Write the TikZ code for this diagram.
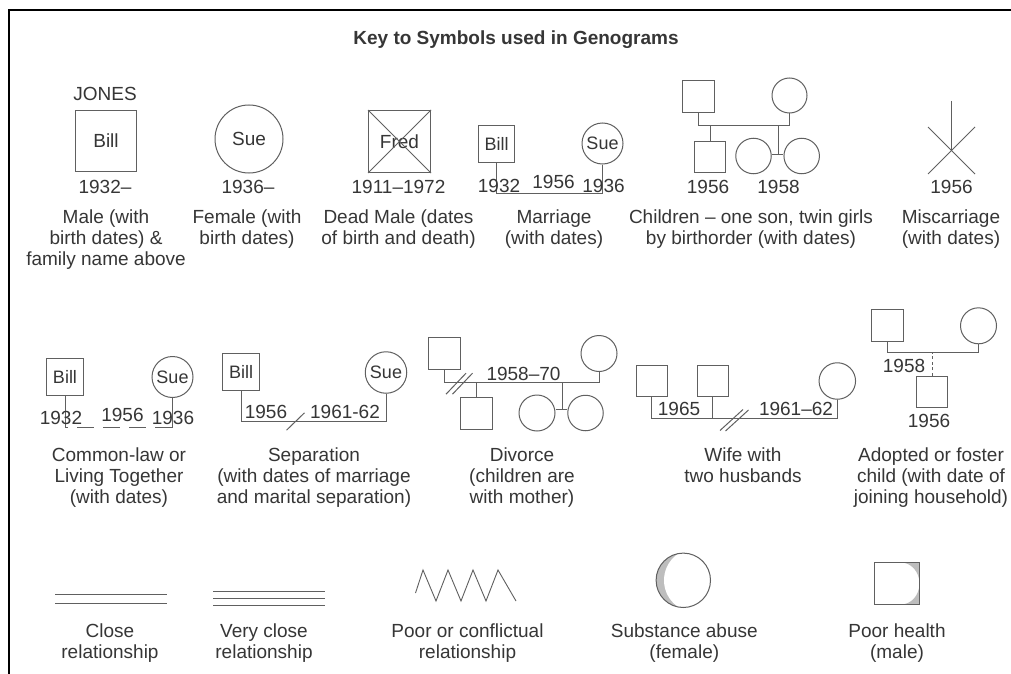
\documentclass[tikz,border=0pt]{standalone}
\usepackage{fontspec}
\setmainfont{Liberation Sans}
\usetikzlibrary{calc}
\definecolor{lc}{HTML}{606060}
\definecolor{tc}{HTML}{363636}
\definecolor{sh}{HTML}{BDBDBD}
\newcommand\fsA{\fontsize{19}{21}\selectfont}
\newcommand\fsB{\fontsize{18}{20}\selectfont}
\newcommand\gcap[1]{\begin{tabular}[t]{@{}c@{}}#1\end{tabular}}
\tikzset{
  sq/.style={rectangle, draw=lc, line width=1pt, inner sep=0pt, text=tc, font=\fsA},
  circ/.style={circle, draw=lc, line width=1pt, inner sep=0pt, text=tc, font=\fsA},
  lbl/.style={inner sep=0pt, text=tc, font=\fsA, anchor=base},
  ttl/.style={inner sep=0pt, text=tc, font=\fsA\bfseries, anchor=base},
  ln/.style={draw=lc, line width=1pt},
  thin/.style={draw=lc, line width=0.9pt},
}
\begin{document}
\begin{tikzpicture}[x=1pt,y=-1pt]
\useasboundingbox (0,0) rectangle (1011,674);
\fill[white] (0,0) rectangle (1011,674);
\draw[line width=2.5pt, black] (9,674) -- (9,10) -- (1011,10);

\node[ttl] (title) at (516,45) {Key to Symbols used in Genograms};

% Male
\node[lbl] (jones) at (105,101) {JONES};
\node[sq, minimum size=61] (bill1) at (106,141) {Bill};
\node[lbl] (b1932) at (105,193) {1932–};
\node[lbl] (cap1) at (106,223.5) {\gcap{Male (with\\birth dates) \&\\family name above}};

% Female
\node[circ, minimum size=68] (sue1) at (249,139) {Sue};
\node[lbl] (b1936) at (248,193) {1936–};
\node[lbl] (cap2) at (247,223.5) {\gcap{Female (with\\birth dates)}};

% Dead male
\node[sq, minimum size=62] (fred) at (399.5,141.5) {Fred};
\draw[ln] (fred.north west) -- (fred.south east);
\draw[ln] (fred.north east) -- (fred.south west);
\node[lbl] (b1911) at (398.5,193) {1911–1972};
\node[lbl] (cap3) at (398.5,223.5) {\gcap{Dead Male (dates\\of birth and death)}};

% Marriage
\node[sq, minimum width=36, minimum height=37] (bill2) at (496.5,144) {\fsB Bill};
\node[circ, minimum size=41] (sue2) at (602.5,143.5) {\fsB Sue};
\coordinate (mar2) at (550,193.5);
\draw[ln] (bill2.south) -- (bill2.south |- mar2) -| (sue2.south);
\node[lbl] (m1932) at (499,192) {1932};
\node[lbl] (m1956) at (553.5,188.5) {1956};
\node[lbl] (m1936) at (603.5,192) {1936};
\node[lbl] (cap4) at (554,223.5) {\gcap{Marriage\\(with dates)}};

% Children
\node[sq, minimum size=32] (fa3) at (698.5,96.5) {};
\node[circ, minimum size=35] (mo3) at (789.5,95.5) {};
\coordinate (mar3) at (744,125.5);
\draw[ln] (fa3.south) -- (fa3.south |- mar3) -| (mo3.south);
\node[sq, minimum size=31] (son3) at (710,156.5) {};
\draw[ln] (son3.north) -- (son3.north |- mar3);
\node[circ, minimum size=35.5] (tw3a) at (753.5,156) {};
\node[circ, minimum size=35.5] (tw3b) at (801.7,156) {};
\coordinate (twj3) at (778.5,154.5);
\draw[ln] (twj3 -| tw3a.east) -- (twj3 -| tw3b.west);
\draw[ln] (twj3) -- (twj3 |- mar3);
\node[lbl] (c1956) at (708,193) {1956};
\node[lbl] (c1958) at (778.5,193) {1958};
\node[lbl] (cap5) at (751,223.5) {\gcap{Children – one son, twin girls\\by birthorder (with dates)}};

% Miscarriage
\coordinate (mcx) at (951.5,150.5);
\coordinate (mct) at (951.5,101);
\draw[ln] (mct) -- (mcx);
\draw[ln] (mcx) ++(-23.5,-23.5) -- ++(47,47);
\draw[ln] (mcx) ++(23.5,-23.5) -- ++(-47,47);
\node[lbl] (mc1956) at (951.5,193) {1956};
\node[lbl] (cap6) at (951,223.5) {\gcap{Miscarriage\\(with dates)}};

% Common-law
\node[sq, minimum size=37] (bill4) at (65,377) {\fsB Bill};
\node[circ, minimum size=41] (sue4) at (172.5,377) {\fsB Sue};
\coordinate (cl4) at (120,427.5);
\draw[ln] (bill4.south) -- (bill4.south |- cl4);
\draw[ln] (sue4.south) -- (sue4.south |- cl4);
\draw[ln, dash pattern=on 17pt off 9pt, dash phase=14pt] (bill4.south |- cl4) -- (sue4.south |- cl4);
\node[lbl] (l1932) at (61,424) {1932};
\node[lbl] (l1956) at (122.5,421) {1956};
\node[lbl] (l1936) at (173,424) {1936};
\node[lbl] (cap7) at (119,461.5) {\gcap{Common-law or\\Living Together\\(with dates)}};

% Separation
\node[sq, minimum size=37] (bill5) at (241,371.5) {\fsB Bill};
\node[circ, minimum size=41.5] (sue5) at (386,372.5) {\fsB Sue};
\coordinate (sep5) at (295.5,421.5);
\draw[ln] (bill5.south) -- (bill5.south |- sep5) -| (sue5.south);
\draw[ln] (sep5) ++(-9,8.7) -- ++(18,-17.4);
\node[lbl] (s1956) at (266,418) {1956};
\node[lbl] (s1961) at (345,418) {1961-62};
\node[lbl] (cap8) at (314,461.5) {\gcap{Separation\\(with dates of marriage\\and marital separation)}};

% Divorce
\node[sq, minimum size=32] (fa6) at (444,353.5) {};
\node[circ, minimum size=36] (mo6) at (599,353.5) {};
\coordinate (mar6) at (520,382.5);
\draw[ln] (fa6.south) -- (fa6.south |- mar6) -| (mo6.south);
\coordinate (ds6a) at (456,383.7);
\coordinate (ds6b) at (462.5,383.7);
\draw[ln] (ds6a) ++(-10,10.5) -- ++(20,-21);
\draw[ln] (ds6b) ++(-10,10.5) -- ++(20,-21);
\node[sq, minimum size=32] (son6) at (476.5,413.5) {};
\draw[ln] (son6.north) -- (son6.north |- mar6);
\node[circ, minimum size=36] (tw6a) at (537,413) {};
\node[circ, minimum size=35.5] (tw6b) at (585.5,413) {};
\coordinate (twj6) at (562.5,409.5);
\draw[ln] (twj6 -| tw6a.east) -- (twj6 -| tw6b.west);
\draw[ln] (twj6) -- (twj6 |- mar6);
\node[lbl] (d1958) at (523.5,380) {1958–70};
\node[lbl] (cap9) at (522,461.5) {\gcap{Divorce\\(children are\\with mother)}};

% Wife with two husbands
\node[sq, minimum size=31] (h7a) at (651.5,381) {};
\node[sq, minimum size=31] (h7b) at (712.5,381) {};
\node[circ, minimum size=36.5] (w7) at (837.3,381) {};
\coordinate (mar7) at (750,418.5);
\draw[ln] (h7a.south) -- (h7a.south |- mar7) -| (w7.south);
\draw[ln] (h7b.south) -- (h7b.south |- mar7);
\coordinate (ds7a) at (731.5,420);
\coordinate (ds7b) at (737,420.5);
\draw[ln] (ds7a) ++(-11.5,10.5) -- ++(23,-21);
\draw[ln] (ds7b) ++(-11.5,10.5) -- ++(23,-21);
\node[lbl] (w1965) at (679,415) {1965};
\node[lbl] (w1961) at (796,415) {1961–62};
\node[lbl] (cap10) at (743,461.5) {\gcap{Wife with\\two husbands}};

% Adopted
\node[sq, minimum size=32] (fa8) at (887.5,325.5) {};
\node[circ, minimum size=36] (mo8) at (978.5,325.8) {};
\coordinate (mar8) at (930,352.5);
\draw[ln] (fa8.south) -- (fa8.south |- mar8) -| (mo8.south);
\node[sq, minimum size=31] (ch8) at (932,391.5) {};
\draw[ln, dash pattern=on 3pt off 2.5pt] (ch8.north) -- (ch8.north |- mar8);
\node[lbl] (a1958) at (904,372.5) {1958};
\node[lbl] (a1956) at (929,427) {1956};
\node[lbl] (cap11) at (931,461.5) {\gcap{Adopted or foster\\child (with date of\\joining household)}};

% Bottom row
\draw[thin] (55,594) -- (166.7,594) (55,603.3) -- (166.7,603.3);
\draw[thin] (213.3,591.7) -- (325,591.7) (213.3,598.3) -- (325,598.3) (213.3,605) -- (325,605);
\draw[thin, line join=miter] (415.5,593) -- (423,570) -- (436,601) -- (448,570) -- (461,601) -- (473,570) -- (486,601) -- (498,570) -- (516,601);

\coordinate (subc) at (683.3,580.3);
\begin{scope}
\clip (subc) circle (27.2);
\fill[sh] (subc) circle (27.2);
\fill[white] ($(subc)+(12.8,0)$) circle (32.1);
\end{scope}
\node[circ, minimum size=54.4] (sub) at (subc) {};

\fill[sh] (901,562.5) .. controls (910.9,562.5) and (919.5,571.6) .. (919.5,583.5) .. controls (919.5,595.4) and (910.9,604.5) .. (901,604.5) -- (919.5,604.5) -- (919.5,562.5) -- cycle;
\node[sq, minimum width=45, minimum height=42] (ph) at (897,583.5) {};

\node[lbl] (cap12) at (110,637.5) {\gcap{Close\\relationship}};
\node[lbl] (cap13) at (264,637.5) {\gcap{Very close\\relationship}};
\node[lbl] (cap14) at (467.5,637.5) {\gcap{Poor or conflictual\\relationship}};
\node[lbl] (cap15) at (684.3,637.5) {\gcap{Substance abuse\\(female)}};
\node[lbl] (cap16) at (897,637.5) {\gcap{Poor health\\(male)}};
\end{tikzpicture}
\end{document}
